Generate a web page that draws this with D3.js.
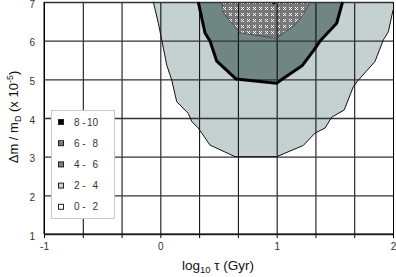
<!DOCTYPE html>
<html>
<head>
<meta charset="utf-8">
<script src="https://cdn.jsdelivr.net/npm/d3@7"></script>
<style>
  body { margin: 0; background: #fff; }
  svg { display: block; font-family: "Liberation Sans", Arial, sans-serif; }
</style>
</head>
<body>
<svg></svg>
<script>
// contour boundaries, [log10 tau, dm/mD]
const level2 = [
  [-0.06, 7], [-0.017, 6.45], [0.012, 6.02], [0.055, 5.37], [0.098, 4.98],
  [0.141, 4.42], [0.24, 4.12], [0.27, 3.91], [0.326, 3.74], [0.427, 3.3],
  [0.642, 3.0], [1.0, 3.0], [1.229, 3.29], [1.33, 3.61], [1.416, 3.74],
  [1.473, 4.02], [1.581, 4.21], [1.659, 4.81], [1.702, 4.98], [1.845, 5.46],
  [1.917, 6.02], [1.96, 6.23], [2.0, 6.79], [2.0, 7]
];
const level4 = [
  [0.326, 7], [0.384, 6.2], [0.427, 5.99], [0.485, 5.47], [0.65, 5.01],
  [1.0, 4.9], [1.037, 4.98], [1.218, 5.35], [1.321, 5.76], [1.373, 5.99],
  [1.516, 6.45], [1.566, 7]
];
const level6 = [
  [0.528, 7], [0.541, 6.72], [0.599, 6.51], [0.685, 6.2], [1.0, 6.06],
  [1.158, 6.41], [1.244, 6.74], [1.287, 7]
];
const level8 = [
  [0.944, 7], [0.975, 6.93], [1.004, 7]
];

const legendLow = ["8 -", "6 -", "4 -", "2 -", "0 -"];
const legendHigh = ["10", "8", "6", "4", "2"];

const xTicks = d3.range(0, 10).map((i) => -1 + i / 3);
const yTicks = [1, 2, 3, 4, 5, 6, 7];

const width = 396;
const height = 277;
const padL = 44, padR = 393, padT = 2, padB = 234;

const svg = d3.select("svg").attr("width", width).attr("height", height);

const x = d3.scaleLinear().domain([-1, 2]).range([padL, padR]);
const y = d3.scaleLinear().domain([1, 7]).range([padB, padT]);

const defs = svg.append("defs");
const pat = defs.append("pattern")
  .attr("id", "dots")
  .attr("patternUnits", "userSpaceOnUse")
  .attr("width", 6).attr("height", 6);
pat.append("rect").attr("width", 6).attr("height", 6).attr("fill", "#777");
[[1, 1], [3, 1], [2, 2], [1, 3], [3, 3]].forEach((p) => {
  pat.append("rect").attr("x", p[0]).attr("y", p[1])
    .attr("width", 1).attr("height", 1).attr("fill", "#fff");
});

const fills = {
  l2: "#c5d0d0",
  l4: "#6f8683",
  l6: "url(#dots)",
  l8: "#000"
};

const line = d3.line().x((d) => x(d[0])).y((d) => y(d[1]));

// filled regions
svg.append("path").attr("d", line(level2) + "Z").attr("fill", fills.l2);
svg.append("path").attr("d", line(level4) + "Z").attr("fill", fills.l4);
svg.append("path").attr("d", line(level6) + "Z").attr("fill", fills.l6);
svg.append("path").attr("d", line(level8) + "Z").attr("fill", fills.l8);

// grid + axes
const xAxis = d3.axisBottom(x)
  .tickValues(xTicks)
  .tickSizeInner(-(padB - padT) - 4)
  .tickSizeOuter(0)
  .tickPadding(5)
  .tickFormat((d) => (Math.abs(d - Math.round(d)) < 1e-6 ? String(Math.round(d)) : ""));

const gx = svg.append("g")
  .attr("transform", `translate(0, ${padB + 4})`)
  .call(xAxis);
gx.select(".domain").remove();
gx.selectAll("line").attr("stroke", "#000");
gx.selectAll("text").attr("fill", "#333").style("font-size", "10px");

const yAxis = d3.axisLeft(y)
  .tickValues(yTicks)
  .tickSizeInner(-(padR - padL))
  .tickSizeOuter(0)
  .tickPadding(9)
  .tickFormat((d) => String(d));

const gy = svg.append("g")
  .attr("transform", `translate(${padL}, 0)`)
  .call(yAxis);
gy.select(".domain").remove();
gy.selectAll("line").attr("stroke", "#333").attr("stroke-width", 1.4);
gy.selectAll("text").attr("fill", "#333").attr("dy", "0.5em").style("font-size", "10px");

// plot frame
svg.append("line").attr("x1", padL).attr("x2", padL).attr("y1", padT).attr("y2", padB)
  .attr("stroke", "#000");
svg.append("line").attr("x1", padL).attr("x2", padR).attr("y1", padB).attr("y2", padB)
  .attr("stroke", "#000");

// contour outlines
svg.append("path").attr("d", line(level2.slice(0, -1))).attr("fill", "none")
  .attr("stroke", "#111").attr("stroke-width", 1);
svg.append("path").attr("d", line(level6)).attr("fill", "none")
  .attr("stroke", "#444").attr("stroke-width", 0.8);
svg.append("path").attr("d", line(level4)).attr("fill", "none")
  .attr("stroke", "#000").attr("stroke-width", 3).attr("stroke-linejoin", "round");

// legend
const lg = svg.append("g");
lg.append("rect")
  .attr("x", 51.5).attr("y", 110.5).attr("width", 63).attr("height", 108)
  .attr("fill", "#fff").attr("stroke", "#c8c8c8");
const legendFills = [fills.l8, fills.l6, fills.l4, fills.l2, "#fff"];
legendLow.forEach((lab, i) => {
  const cy = 122 + i * 21.2;
  lg.append("rect")
    .attr("x", 58.5).attr("y", cy - 2.5).attr("width", 5).attr("height", 5)
    .attr("fill", legendFills[i]).attr("stroke", "#222").attr("stroke-width", 1);
  lg.append("text").attr("x", 74).attr("y", cy + 3.5)
    .attr("fill", "#333").style("font-size", "10px").text(lab);
  lg.append("text").attr("x", 98).attr("y", cy + 3.5).attr("text-anchor", "end")
    .attr("fill", "#333").style("font-size", "10px").text(legendHigh[i]);
});

// axis titles
const xt = svg.append("text")
  .attr("x", 218).attr("y", 270)
  .attr("text-anchor", "middle")
  .attr("fill", "#111")
  .style("font-size", "13.5px");
xt.append("tspan").text("log");
xt.append("tspan").attr("dy", 3).style("font-size", "9.5px").text("10");
xt.append("tspan").attr("dy", -3).text(" \u03c4  (Gyr)");

const yt = svg.append("text")
  .attr("transform", "translate(18, 117) rotate(-90)")
  .attr("text-anchor", "middle")
  .attr("fill", "#111")
  .style("font-size", "13px");
yt.append("tspan").text("\u0394m / m");
yt.append("tspan").attr("dy", 3).style("font-size", "9px").text("D");
yt.append("tspan").attr("dy", -3).text(" (x 10");
yt.append("tspan").attr("dy", -5).style("font-size", "9px").text("-5");
yt.append("tspan").attr("dy", 5).text(")");
</script>
</body>
</html>
